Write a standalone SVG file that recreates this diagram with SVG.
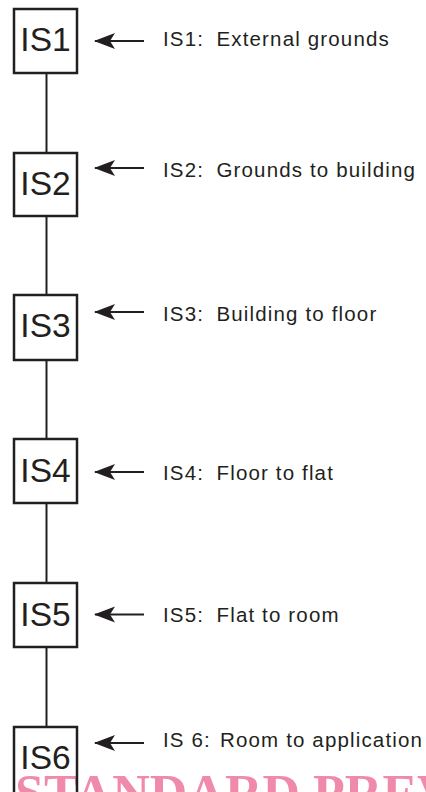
<svg xmlns="http://www.w3.org/2000/svg" width="426" height="792" viewBox="0 0 426 792">
<style>
.box{fill:none;stroke:#231f20;stroke-width:2.5}
.bl{font-family:"Liberation Sans",Arial,sans-serif;font-size:33.5px;fill:#231f20;text-anchor:middle}
.lb{font-family:"Liberation Sans",Arial,sans-serif;font-size:20.5px;fill:#231f20;letter-spacing:1.15px}
.ln{stroke:#231f20;stroke-width:2;fill:none}
.ar{stroke:#231f20;stroke-width:2.2;fill:none;marker-start:url(#ah)}
.wm{font-family:"Liberation Serif","Times New Roman",serif;font-weight:bold;font-size:52px;fill:#ef8aab}
</style>
<defs>
<marker id="ah" viewBox="0 0 21 17" refX="1" refY="8.5" markerWidth="21" markerHeight="17" markerUnits="userSpaceOnUse" orient="auto">
<path d="M0,8.5 L21,0.5 L16,8.5 L21,16.5 Z" fill="#231f20"/>
</marker>
</defs>
<rect width="426" height="792" fill="#fff"/>
<text class="wm" x="15" y="811">STANDARD PREVIEW</text>
<g id="connectors">
<line class="ln" x1="46.5" y1="74" x2="46.5" y2="152"/>
<line class="ln" x1="46.5" y1="217" x2="46.5" y2="294"/>
<line class="ln" x1="46.5" y1="361" x2="46.5" y2="438"/>
<line class="ln" x1="46.5" y1="504" x2="46.5" y2="582"/>
<line class="ln" x1="46.5" y1="648" x2="46.5" y2="726"/>
<line class="ar" x1="95" y1="41" x2="144" y2="41"/>
<line class="ar" x1="95" y1="168" x2="144" y2="168"/>
<line class="ar" x1="95" y1="312" x2="144" y2="312"/>
<line class="ar" x1="95" y1="472" x2="144" y2="472"/>
<line class="ar" x1="95" y1="614.5" x2="144" y2="614.5"/>
<line class="ar" x1="95" y1="743" x2="144" y2="743"/>
</g>
<g id="IS1"><rect class="box" x="14" y="9" width="63" height="64"/><text class="bl" x="45.5" y="51">IS1</text></g>
<g id="IS2"><rect class="box" x="14" y="153" width="63" height="63"/><text class="bl" x="45.5" y="195">IS2</text></g>
<g id="IS3"><rect class="box" x="14" y="295" width="63" height="65"/><text class="bl" x="45.5" y="337">IS3</text></g>
<g id="IS4"><rect class="box" x="14" y="439" width="63" height="64"/><text class="bl" x="45.5" y="482">IS4</text></g>
<g id="IS5"><rect class="box" x="14" y="583" width="63" height="64"/><text class="bl" x="45.5" y="625.5">IS5</text></g>
<g id="IS6"><rect class="box" x="14" y="727" width="63" height="80"/><text class="bl" x="45.5" y="769">IS6</text></g>
<g id="labels">
<text class="lb" x="163" y="46">IS1: <tspan x="216.5">External grounds</tspan></text>
<text class="lb" x="163" y="176.5">IS2: <tspan x="216.5">Grounds to building</tspan></text>
<text class="lb" x="163" y="321">IS3: <tspan x="216.5">Building to floor</tspan></text>
<text class="lb" x="163" y="480">IS4: <tspan x="216.5">Floor to flat</tspan></text>
<text class="lb" x="163" y="622">IS5: <tspan x="216.5">Flat to room</tspan></text>
<text class="lb" x="163" y="747">IS 6: <tspan x="220">Room to application</tspan></text>
</g>
</svg>
